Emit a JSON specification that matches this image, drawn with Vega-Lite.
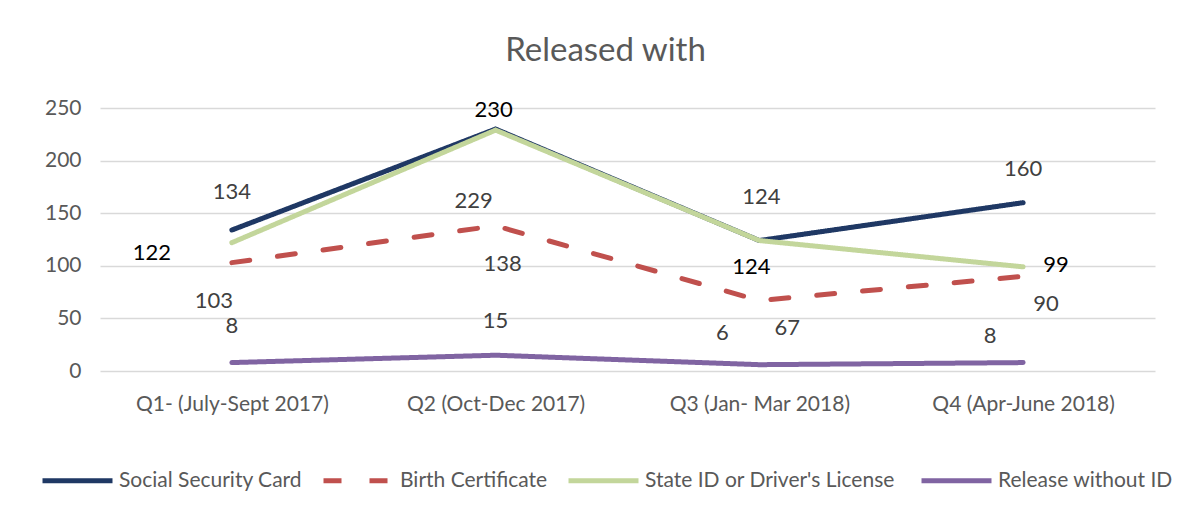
{
  "$schema": "https://vega.github.io/schema/vega-lite/v6.json",
  "autosize": {"type": "none"},
  "padding": {"left": 100, "top": 108, "right": 27, "bottom": 161},
  "width": 1055,
  "height": 263,
  "background": "white",
  "title": {"text": "Released with", "fontSize": 33, "font": "Lato", "fontWeight": "normal", "color": "#595959", "anchor": "middle", "offset": 29, "dx": -22},
  "config": {
    "font": "Lato",
    "view": {"stroke": null},
    "axis": {"labelFont": "Lato", "labelFontSize": 21, "labelColor": "#595959", "labelLimit": 0, "gridColor": "#d9d9d9", "gridWidth": 1.5, "domain": false, "ticks": false, "title": null}
  },
  "data": {"values": [
    {"quarter": "Q1- (July-Sept 2017)", "series": "Social Security Card", "value": 134},
    {"quarter": "Q2 (Oct-Dec 2017)", "series": "Social Security Card", "value": 230},
    {"quarter": "Q3 (Jan- Mar 2018)", "series": "Social Security Card", "value": 124},
    {"quarter": "Q4 (Apr-June 2018)", "series": "Social Security Card", "value": 160},
    {"quarter": "Q1- (July-Sept 2017)", "series": "Birth Certificate", "value": 103},
    {"quarter": "Q2 (Oct-Dec 2017)", "series": "Birth Certificate", "value": 138},
    {"quarter": "Q3 (Jan- Mar 2018)", "series": "Birth Certificate", "value": 67},
    {"quarter": "Q4 (Apr-June 2018)", "series": "Birth Certificate", "value": 90},
    {"quarter": "Q1- (July-Sept 2017)", "series": "State ID  or Driver's License", "value": 122},
    {"quarter": "Q2 (Oct-Dec 2017)", "series": "State ID  or Driver's License", "value": 229},
    {"quarter": "Q3 (Jan- Mar 2018)", "series": "State ID  or Driver's License", "value": 124},
    {"quarter": "Q4 (Apr-June 2018)", "series": "State ID  or Driver's License", "value": 99},
    {"quarter": "Q1- (July-Sept 2017)", "series": "Release without ID", "value": 8},
    {"quarter": "Q2 (Oct-Dec 2017)", "series": "Release without ID", "value": 15},
    {"quarter": "Q3 (Jan- Mar 2018)", "series": "Release without ID", "value": 6},
    {"quarter": "Q4 (Apr-June 2018)", "series": "Release without ID", "value": 8}
  ]},
  "encoding": {
    "x": {"field": "quarter", "type": "nominal", "sort": null, "scale": {"type": "point", "padding": 0.5}, "axis": {"labelAngle": 0, "labelPadding": 22, "labelLimit": 0, "grid": false}},
    "y": {"field": "value", "type": "quantitative", "scale": {"domain": [0, 250], "nice": false}, "axis": {"values": [0, 50, 100, 150, 200, 250], "labelPadding": 19, "grid": true}}
  },
  "layer": [
    {
      "mark": {"type": "line", "strokeWidth": 5, "strokeCap": "round", "strokeJoin": "round"},
      "encoding": {
        "color": {"field": "series", "type": "nominal", "sort": ["Social Security Card", "Birth Certificate", "State ID  or Driver's License", "Release without ID"],
          "scale": {"domain": ["Social Security Card", "Birth Certificate", "State ID  or Driver's License", "Release without ID"], "range": ["#1F3864", "#C0504D", "#C3D69B", "#8064A2"]},
          "legend": {"title": null, "orient": "none", "legendX": -60, "legendY": 335, "direction": "horizontal", "symbolType": "stroke", "symbolSize": 4900, "symbolStrokeWidth": 5, "labelFontSize": 21, "labelColor": "#595959", "labelFont": "Lato", "labelLimit": 0, "labelOffset": 4, "columnPadding": 10}},
        "strokeDash": {"field": "series", "type": "nominal", "sort": ["Social Security Card", "Birth Certificate", "State ID  or Driver's License", "Release without ID"],
          "scale": {"domain": ["Social Security Card", "Birth Certificate", "State ID  or Driver's License", "Release without ID"], "range": [[1, 0], [18, 28], [1, 0], [1, 0]]},
          "legend": {"title": null, "orient": "none", "legendX": -60, "legendY": 335, "direction": "horizontal", "symbolType": "stroke", "symbolSize": 4900, "symbolStrokeWidth": 5, "labelFontSize": 21, "labelColor": "#595959", "labelFont": "Lato", "labelLimit": 0, "labelOffset": 4, "columnPadding": 10}},
        "order": {"field": "series", "sort": "ascending"}
      }
    },
    {"transform": [{"filter": "datum.series === 'Social Security Card' && datum.quarter[1] === '1'"}], "mark": {"type": "text", "fontSize": 22, "color": "#404040", "dy": -38}, "encoding": {"text": {"field": "value"}}},
    {"transform": [{"filter": "datum.series === 'Social Security Card' && datum.quarter[1] === '2'"}], "mark": {"type": "text", "fontSize": 22, "color": "#000000", "dx": -2, "dy": -19}, "encoding": {"text": {"field": "value"}}},
    {"transform": [{"filter": "datum.series === 'Social Security Card' && datum.quarter[1] === '3'"}], "mark": {"type": "text", "fontSize": 22, "color": "#404040", "dx": 2, "dy": -44}, "encoding": {"text": {"field": "value"}}},
    {"transform": [{"filter": "datum.series === 'Social Security Card' && datum.quarter[1] === '4'"}], "mark": {"type": "text", "fontSize": 22, "color": "#404040", "dy": -34}, "encoding": {"text": {"field": "value"}}},
    {"transform": [{"filter": "datum.series === 'Birth Certificate' && datum.quarter[1] === '1'"}], "mark": {"type": "text", "fontSize": 22, "color": "#404040", "dx": -18, "dy": 38}, "encoding": {"text": {"field": "value"}}},
    {"transform": [{"filter": "datum.series === 'Birth Certificate' && datum.quarter[1] === '2'"}], "mark": {"type": "text", "fontSize": 22, "color": "#404040", "dx": 7, "dy": 38}, "encoding": {"text": {"field": "value"}}},
    {"transform": [{"filter": "datum.series === 'Birth Certificate' && datum.quarter[1] === '3'"}], "mark": {"type": "text", "fontSize": 22, "color": "#404040", "dx": 28, "dy": 27}, "encoding": {"text": {"field": "value"}}},
    {"transform": [{"filter": "datum.series === 'Birth Certificate' && datum.quarter[1] === '4'"}], "mark": {"type": "text", "fontSize": 22, "color": "#404040", "dx": 23, "dy": 28}, "encoding": {"text": {"field": "value"}}},
    {"transform": [{"filter": "datum.series === \"State ID  or Driver's License\" && datum.quarter[1] === '1'"}], "mark": {"type": "text", "fontSize": 22, "color": "#000000", "dx": -80, "dy": 10}, "encoding": {"text": {"field": "value"}}},
    {"transform": [{"filter": "datum.series === \"State ID  or Driver's License\" && datum.quarter[1] === '2'"}], "mark": {"type": "text", "fontSize": 22, "color": "#404040", "dx": -22, "dy": 71}, "encoding": {"text": {"field": "value"}}},
    {"transform": [{"filter": "datum.series === \"State ID  or Driver's License\" && datum.quarter[1] === '3'"}], "mark": {"type": "text", "fontSize": 22, "color": "#000000", "dx": -8, "dy": 26}, "encoding": {"text": {"field": "value"}}},
    {"transform": [{"filter": "datum.series === \"State ID  or Driver's License\" && datum.quarter[1] === '4'"}], "mark": {"type": "text", "fontSize": 22, "color": "#000000", "dx": 33, "dy": -2}, "encoding": {"text": {"field": "value"}}},
    {"transform": [{"filter": "datum.series === 'Release without ID' && datum.quarter[1] === '1'"}], "mark": {"type": "text", "fontSize": 22, "color": "#404040", "dy": -37}, "encoding": {"text": {"field": "value"}}},
    {"transform": [{"filter": "datum.series === 'Release without ID' && datum.quarter[1] === '2'"}], "mark": {"type": "text", "fontSize": 22, "color": "#404040", "dy": -34}, "encoding": {"text": {"field": "value"}}},
    {"transform": [{"filter": "datum.series === 'Release without ID' && datum.quarter[1] === '3'"}], "mark": {"type": "text", "fontSize": 22, "color": "#404040", "dx": -37, "dy": -32}, "encoding": {"text": {"field": "value"}}},
    {"transform": [{"filter": "datum.series === 'Release without ID' && datum.quarter[1] === '4'"}], "mark": {"type": "text", "fontSize": 22, "color": "#404040", "dx": -33, "dy": -27}, "encoding": {"text": {"field": "value"}}}
  ]
}
